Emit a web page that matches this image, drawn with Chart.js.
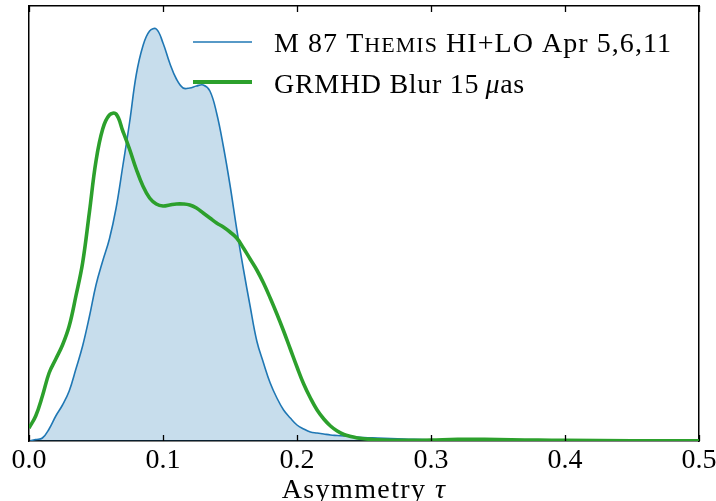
<!DOCTYPE html>
<html>
<head>
<meta charset="utf-8">
<script src="https://cdn.jsdelivr.net/npm/chart.js@4/dist/chart.umd.min.js"></script>
<style>
  html, body { margin: 0; padding: 0; background: #fff; }
  #wrap { width: 716px; height: 501px; }
</style>
</head>
<body>
<div id="wrap"><canvas id="grafico"></canvas></div>
<script>
// asymmetry values on the x axis
const tau = [
  0, 0.005, 0.01, 0.015, 0.02, 0.025, 0.03, 0.035, 0.04, 0.045,
  0.05, 0.055, 0.06, 0.065, 0.07, 0.075, 0.08, 0.085, 0.09, 0.095,
  0.1, 0.105, 0.11, 0.115, 0.12, 0.125, 0.13, 0.135, 0.14, 0.145,
  0.15, 0.155, 0.16, 0.165, 0.17, 0.175, 0.18, 0.185, 0.19, 0.195,
  0.2, 0.205, 0.21, 0.215, 0.22, 0.225, 0.23, 0.235, 0.24, 0.245, 0.25,
  0.26, 0.28, 0.3, 0.32, 0.34, 0.36, 0.38, 0.4, 0.45, 0.5
];

// M 87 Themis posterior (arbitrary density units)
const themis = [
  0, 1.5, 3, 12, 25, 36, 50, 72, 95, 124,
  156, 180, 202, 233, 275, 318, 366, 395, 410, 412,
  398, 378, 362, 353, 353, 355, 356, 350, 328, 295,
  256, 212, 172, 135, 100, 78, 58, 43, 31, 23,
  16, 12, 9, 8, 7, 6, 5.5, 5, 4.5, 4, 3.5,
  3, 2, 1, 0.5, 0.3, 0.2, 0.1, 0, 0, 0
];

// GRMHD blurred distribution
const grmhd = [
  13, 25, 45, 68, 82, 96, 115, 145, 178, 228,
  280, 312, 326, 327, 310, 292, 272, 255, 243, 237,
  235, 236, 237, 237, 236, 233, 228, 223, 218, 214,
  209, 203, 193, 182, 171, 158, 143, 127, 110, 92,
  74, 57, 43, 31, 22, 15, 10, 6.5, 4.5, 3, 2.3,
  1.2, 0.6, 1, 1.6, 1.6, 1.2, 0.9, 0.6, 0.3, 0.3
];

const xTicks = [0, 0.1, 0.2, 0.3, 0.4, 0.5];
const nomes = ['M 87 Themis HI+LO Apr 5,6,11', 'GRMHD Blur 15 μas'];

const AZUL = '#1f77b4';
const VERDE = '#2ca02c';
const FONTE = '"Liberation Serif", "Times New Roman", serif';

function pares(ys) {
  return tau.map((t, i) => ({ x: t, y: ys[i] }));
}

function semLargura(s) { s.width = 0; }
function semAltura(s) { s.height = 0; s.paddingLeft = 0; s.paddingRight = 0; }

// inward tick marks, legend and axis title with mixed styles
const extras = {
  id: 'extras',
  afterDraw(chart) {
    const ctx = chart.ctx;
    const area = chart.chartArea;
    const x = chart.scales.x;
    ctx.save();
    ctx.strokeStyle = '#000';
    ctx.lineWidth = 1.3;
    xTicks.forEach(v => {
      const px = Math.round(x.getPixelForValue(v)) + 0.5;
      ctx.beginPath();
      ctx.moveTo(px, area.bottom);
      ctx.lineTo(px, area.bottom - 6);
      ctx.moveTo(px, area.top);
      ctx.lineTo(px, area.top + 6);
      ctx.stroke();
    });

    // legend
    const linhas = [
      { cor: AZUL, w: 1.6, y: 42, base: 52 },
      { cor: VERDE, w: 4, y: 82, base: 93 }
    ];
    linhas.forEach(l => {
      ctx.strokeStyle = l.cor;
      ctx.lineWidth = l.w;
      ctx.beginPath();
      ctx.moveTo(193, l.y);
      ctx.lineTo(252, l.y);
      ctx.stroke();
    });
    ctx.fillStyle = '#000';
    ctx.textBaseline = 'alphabetic';
    ctx.textAlign = 'left';
    const pedacos1 = [
      ['M 87 T', '28px ' + FONTE],
      ['HEMIS', '22px ' + FONTE],
      [' HI+LO Apr 5,6,11', '28px ' + FONTE]
    ];
    const pedacos2 = [
      ['GRMHD Blur 15\u2009', '28px ' + FONTE],
      ['μ', 'italic 28px ' + FONTE],
      ['as', '28px ' + FONTE]
    ];
    const escrever = (pedacos, x0, y0, esp) => {
      let cx = x0;
      pedacos.forEach(([txt, f]) => {
        ctx.font = f;
        ctx.letterSpacing = esp + 'px';
        ctx.fillText(txt, cx, y0);
        cx += ctx.measureText(txt).width;
      });
      return cx - x0;
    };
    escrever(pedacos1, 274, linhas[0].base, 1.05);
    escrever(pedacos2, 274, linhas[1].base, 0.7);

    // x axis title
    const titulo = [
      ['Asymmetry ', '28px ' + FONTE],
      ['τ', 'italic 28px ' + FONTE]
    ];
    let larg = 0;
    titulo.forEach(([t, f]) => {
      ctx.font = f;
      ctx.letterSpacing = '1.4px';
      larg += ctx.measureText(t).width;
    });
    escrever(titulo, (area.left + area.right) / 2 - larg / 2, 498, 1.4);
    ctx.restore();
  }
};

const ctx = document.getElementById('grafico').getContext('2d');
const chart = new Chart(ctx, {
  type: 'line',
  data: {
    datasets: [
      {
        label: nomes[0],
        data: pares(themis),
        borderColor: AZUL,
        borderWidth: 1.6,
        backgroundColor: 'rgba(31, 119, 180, 0.25)',
        fill: 'origin',
        pointRadius: 0,
        tension: 0.4,
        order: 2
      },
      {
        label: nomes[1],
        data: pares(grmhd),
        borderColor: VERDE,
        borderWidth: 3.6,
        fill: false,
        pointRadius: 0,
        tension: 0.4,
        order: 1
      }
    ]
  },
  options: {
    responsive: true,
    maintainAspectRatio: false,
    animation: false,
    devicePixelRatio: 1,
    layout: { padding: { left: 29, right: 17, top: 6, bottom: 0 } },
    plugins: {
      legend: { display: false },
      tooltip: { enabled: false }
    },
    scales: {
      x: {
        type: 'linear',
        position: 'bottom',
        min: 0,
        max: 0.5,
        afterBuildTicks: s => { s.ticks = xTicks.map(v => ({ value: v })); },
        afterFit: s => { s.height = 60; s.paddingLeft = 0; s.paddingRight = 0; },
        grid: { display: false, drawTicks: false },
        border: { display: true, color: '#000', width: 1.5 },
        ticks: {
          color: '#000',
          padding: 3,
          maxRotation: 0,
          autoSkip: false,
          font: { family: FONTE, size: 28 },
          callback: v => v.toFixed(1)
        }
      },
      xTopo: {
        type: 'linear',
        position: 'top',
        min: 0,
        max: 0.5,
        afterFit: semAltura,
        grid: { display: false, drawTicks: false },
        border: { display: true, color: '#000', width: 1.5 },
        ticks: { display: false }
      },
      y: {
        min: 0,
        max: 435,
        afterFit: semLargura,
        grid: { display: false, drawTicks: false },
        border: { display: true, color: '#000', width: 1.5 },
        ticks: { display: false }
      },
      yDir: {
        position: 'right',
        min: 0,
        max: 435,
        afterFit: semLargura,
        grid: { display: false, drawTicks: false },
        border: { display: true, color: '#000', width: 1.5 },
        ticks: { display: false }
      }
    }
  },
  plugins: [extras]
});
</script>
</body>
</html>
